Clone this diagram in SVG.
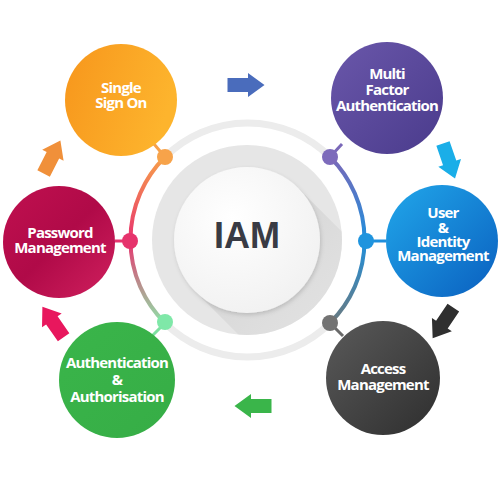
<svg xmlns="http://www.w3.org/2000/svg" width="500" height="500" viewBox="0 0 500 500">
<style>
.lbl{font-family:"Open Sans","Liberation Sans",sans-serif;font-weight:700;font-size:15px;fill:#ffffff;text-anchor:middle;letter-spacing:-0.8px}
.stub{stroke-width:3;fill:none}
.ring{fill:none;stroke:#ececec;stroke-width:7}
.arc{fill:none;stroke-width:4}
</style>
<defs>
<linearGradient id="gOrange" x1="0" y1="0" x2="1" y2="0.3"><stop offset="0" stop-color="#f7961c"/><stop offset="1" stop-color="#fdb42d"/></linearGradient>
<linearGradient id="gPurple" x1="0" y1="0" x2="1" y2="1"><stop offset="0" stop-color="#6a57aa"/><stop offset="1" stop-color="#4a3b8c"/></linearGradient>
<linearGradient id="gBlue" x1="0" y1="0" x2="1" y2="1"><stop offset="0" stop-color="#21a7ea"/><stop offset="1" stop-color="#0a5fbf"/></linearGradient>
<linearGradient id="gPink" x1="0" y1="0" x2="1" y2="1"><stop offset="0" stop-color="#c0104f"/><stop offset="0.5" stop-color="#b00a48"/><stop offset="1" stop-color="#d0205e"/></linearGradient>
<linearGradient id="gGreen" x1="0" y1="0" x2="1" y2="1"><stop offset="0" stop-color="#3ab54a"/><stop offset="1" stop-color="#36ad46"/></linearGradient>
<linearGradient id="gDark" x1="0" y1="0" x2="1" y2="1"><stop offset="0" stop-color="#5a5a5a"/><stop offset="1" stop-color="#2e2e2e"/></linearGradient>
<linearGradient id="gLeftArc" x1="0" y1="0" x2="0" y2="1"><stop offset="0" stop-color="#f7a04a"/><stop offset="0.5" stop-color="#e8336e"/><stop offset="1" stop-color="#8fe0a8"/></linearGradient>
<linearGradient id="gRightArc" x1="0" y1="0" x2="0" y2="1"><stop offset="0" stop-color="#7a68b8"/><stop offset="0.5" stop-color="#1f8fdc"/><stop offset="1" stop-color="#6a7a80"/></linearGradient>
<linearGradient id="gShadow" x1="0" y1="0" x2="1" y2="1"><stop offset="0" stop-color="#cacaca"/><stop offset="1" stop-color="#e6e6e6" stop-opacity="0"/></linearGradient>
<radialGradient id="gWhite" cx="0.4" cy="0.35" r="0.7"><stop offset="0" stop-color="#ffffff"/><stop offset="1" stop-color="#f1f1f1"/></radialGradient>
<clipPath id="clipDisk"><circle cx="247" cy="240" r="95"/></clipPath>
<path id="arrow" d="M-18.5,-7 L2,-7 L2,-12 L18.5,0 L2,12 L2,7 L-18.5,7 Z"/>
<filter id="soft" x="-20%" y="-20%" width="140%" height="140%"><feDropShadow dx="1" dy="2" stdDeviation="2" flood-color="#000" flood-opacity="0.15"/></filter>
</defs>

<g id="center">
<circle cx="247" cy="240" r="95" fill="#e6e6e6"/>
<polygon points="298.6,188.4 420,310 317,413 195.4,291.6" fill="url(#gShadow)" clip-path="url(#clipDisk)"/>
<circle cx="247" cy="240" r="73" fill="url(#gWhite)" filter="url(#soft)"/>
<text x="247" y="248" font-family="'Liberation Sans',Arial,sans-serif" font-weight="700" font-size="36" fill="#393b44" text-anchor="middle">IAM</text>
</g>

<g id="connectors">
<path class="ring" d="M165,157 A117,117 0 0,1 330,157"/>
<path class="ring" d="M165,323 A117,117 0 0,0 330,323"/>
<path class="arc" stroke="url(#gLeftArc)" d="M165,157 A117,117 0 0,0 165,323"/>
<path class="arc" stroke="url(#gRightArc)" d="M330,157 A117,117 0 0,1 330,323"/>
<line class="stub" stroke="#f7a04a" x1="154" y1="144" x2="165" y2="157"/>
<line class="stub" stroke="#7a68b8" x1="342" y1="144" x2="330" y2="157"/>
<line class="stub" stroke="#1f8fdc" x1="386" y1="241" x2="367" y2="241"/>
<line class="stub" stroke="#6a6a6a" x1="343" y1="336" x2="330" y2="323"/>
<line class="stub" stroke="#7de0a0" x1="152" y1="336" x2="165" y2="323"/>
<line class="stub" stroke="#e8336e" x1="115" y1="241" x2="130" y2="241"/>
<circle cx="165" cy="157" r="8" fill="#f7a34a"/>
<circle cx="330" cy="157" r="8" fill="#7d6bbb"/>
<circle cx="366" cy="241" r="8" fill="#1f94de"/>
<circle cx="330" cy="323" r="8" fill="#737373"/>
<circle cx="165" cy="322" r="8" fill="#7fe8a8"/>
<circle cx="130" cy="241" r="8" fill="#e6336c"/>
<use href="#arrow" fill="#4a6cbc" transform="translate(246,85)"/>
<use href="#arrow" fill="#1aaee8" transform="translate(449,161) rotate(71)"/>
<use href="#arrow" fill="#2f2f2f" transform="translate(443,323) rotate(124)"/>
<use href="#arrow" fill="#3ab54a" transform="translate(253,406) rotate(180)"/>
<use href="#arrow" fill="#e8175d" transform="translate(53,322) rotate(235)"/>
<use href="#arrow" fill="#f0903a" transform="translate(52,157) rotate(-63)"/>
</g>

<g id="node-sso">
<circle cx="121" cy="100" r="56" fill="url(#gOrange)"/>
<text class="lbl" x="121" y="93">Single</text>
<text class="lbl" x="121" y="108">Sign On</text>
</g>

<g id="node-mfa">
<circle cx="387" cy="98" r="56" fill="url(#gPurple)"/>
<text class="lbl" x="387" y="79">Multi</text>
<text class="lbl" x="387" y="95">Factor</text>
<text class="lbl" x="387" y="111">Authentication</text>
</g>

<g id="node-user">
<circle cx="442" cy="241" r="56" fill="url(#gBlue)"/>
<text class="lbl" x="443" y="218">User</text>
<text class="lbl" x="443" y="233">&amp;</text>
<text class="lbl" x="443" y="247">Identity</text>
<text class="lbl" x="443" y="261">Management</text>
</g>

<g id="node-access">
<circle cx="383" cy="378" r="57" fill="url(#gDark)"/>
<text class="lbl" x="383" y="374">Access</text>
<text class="lbl" x="383" y="390">Management</text>
</g>

<g id="node-authz">
<circle cx="117" cy="380" r="58" fill="url(#gGreen)"/>
<text class="lbl" x="117" y="368">Authentication</text>
<text class="lbl" x="117" y="385">&amp;</text>
<text class="lbl" x="117" y="402">Authorisation</text>
</g>

<g id="node-password">
<circle cx="59" cy="242" r="56" fill="url(#gPink)"/>
<text class="lbl" x="60" y="238">Password</text>
<text class="lbl" x="60" y="253">Management</text>
</g>
</svg>
